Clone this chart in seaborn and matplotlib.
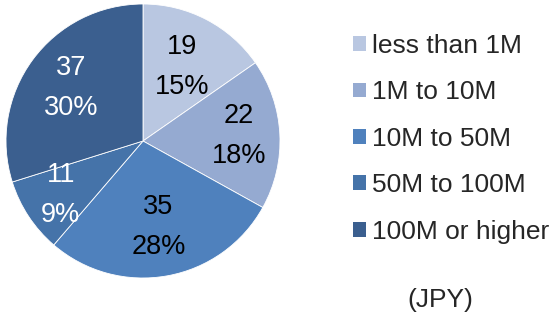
import matplotlib
matplotlib.use("Agg")
import numpy as np
import matplotlib.pyplot as plt
import matplotlib.patches as mpatches
import seaborn as sns

# --- data ---
categories = ["less than 1M", "1M to 10M", "10M to 50M", "50M to 100M", "100M or higher"]
counts = [19, 22, 35, 11, 37]
colors = ["#B9C7E1", "#95AAD1", "#4F81BD", "#4573A9", "#3B5F8F"]
label_colors = ["black", "black", "black", "white", "white"]
unit_note = "(JPY)"

# label distance from center (fraction of radius), per slice
label_r = [0.61, 0.70, 0.64, 0.72, 0.65]

sns.set_theme(style="white")
plt.rcParams["font.family"] = ["Liberation Sans", "DejaVu Sans"]

fig = plt.figure(figsize=(5.52, 3.23), dpi=100)
ax = fig.add_axes([6 / 552, 45 / 323, 274 / 552, 274 / 323])

total = sum(counts)

def fmt(pct):
    val = int(round(pct * total / 100))
    return f"{val}\n{pct:.0f}%"

wedges, texts, autotexts = ax.pie(
    counts, colors=colors, startangle=90, counterclock=False,
    autopct=fmt, pctdistance=0.67, radius=1,
    wedgeprops=dict(linewidth=0.6, edgecolor="white"),
    textprops=dict(fontsize=19.5, linespacing=1.7),
)
for w, t, c, r in zip(wedges, autotexts, label_colors, label_r):
    mid = np.deg2rad((w.theta1 + w.theta2) / 2)
    t.set_position((r * np.cos(mid), r * np.sin(mid)))
    t.set_color(c)
ax.set_xlim(-1, 1)
ax.set_ylim(-1, 1)
ax.set_aspect("equal")

handles = [mpatches.Patch(facecolor=c, edgecolor="none", label=l) for c, l in zip(colors, categories)]
fig.legend(handles=handles, loc="upper left", bbox_to_anchor=(353 / 552, 1 - 34 / 323),
           frameon=False, fontsize=19, handlelength=0.49, handleheight=0.49,
           handletextpad=0.23, labelspacing=0.85, borderpad=0, borderaxespad=0)

fig.text(440 / 552, 1 - 300 / 323, unit_note, ha="center", va="center", fontsize=19)

fig.savefig("out.png", dpi=100)
